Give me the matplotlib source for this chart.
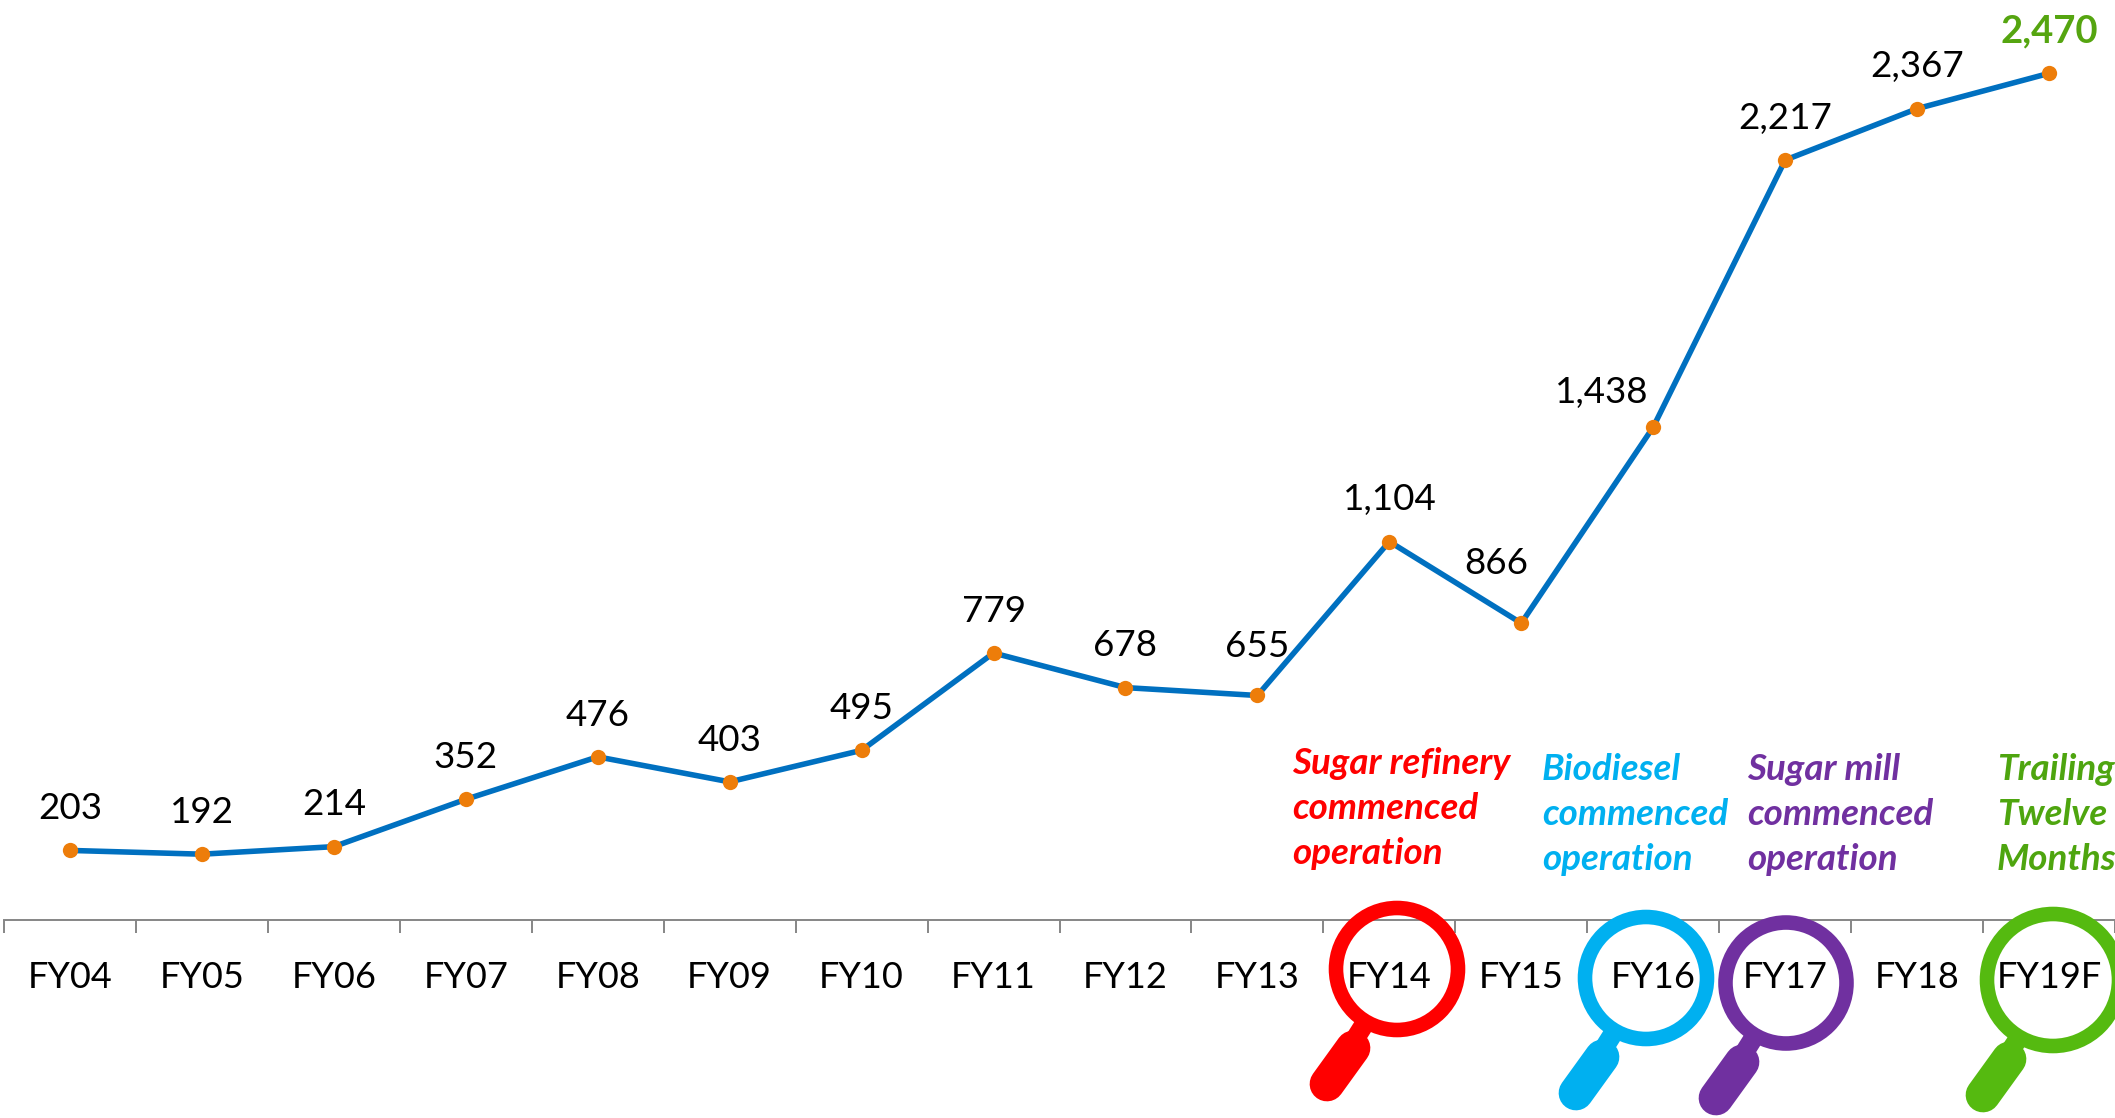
import matplotlib
matplotlib.use("Agg")
import matplotlib.pyplot as plt
from matplotlib.patches import Circle
import numpy as np

years = ["FY04", "FY05", "FY06", "FY07", "FY08", "FY09", "FY10", "FY11",
         "FY12", "FY13", "FY14", "FY15", "FY16", "FY17", "FY18", "FY19F"]
values = [203, 192, 214, 352, 476, 403, 495, 779, 678, 655, 1104, 866, 1438, 2217, 2367, 2470]

# text callouts above the x axis
notes = [["Sugar refinery", "commenced", "operation"],
         ["Biodiesel", "commenced", "operation"],
         ["Sugar mill", "commenced", "operation"],
         ["Trailing", "Twelve", "Months"]]

W, H = 2115, 1118
plt.rcParams["font.family"] = ["Lato", "DejaVu Sans"]

fig = plt.figure(figsize=(W / 100, H / 100), dpi=100)
ax = fig.add_axes([4 / W, (H - 920) / H, 2111 / W, 920 / H])

x = np.arange(len(values))
ax.plot(x, values, color="#0070C0", lw=4, marker="o", ms=11,
        mfc="#ED7D0A", mec="#ED7D0A", mew=0, clip_on=False, zorder=3)
ax.set_xlim(-0.5, 15.5)
ax.set_ylim(0, 2684)

for s in ["top", "left", "right"]:
    ax.spines[s].set_visible(False)
ax.spines["bottom"].set_color("#868686")
ax.spines["bottom"].set_linewidth(1.4)
ax.set_yticks([])
ax.set_xticks(x)
ax.set_xticklabels(years, fontsize=26)
ax.set_xticks(np.arange(-0.5, 16), minor=True)
ax.tick_params(axis="x", which="major", length=0, pad=29.5, colors="black")
ax.tick_params(axis="x", which="minor", length=9.5, width=1.4, color="#868686")

# value labels, most sit right above the point
shift_x = {11: -18, 12: -37}
shift_y = {9: 35, 11: 43, 12: 25}
for i, v in enumerate(values):
    last = i == len(values) - 1
    ax.annotate(f"{v:,}", (x[i], v), xytext=(shift_x.get(i, 0), shift_y.get(i, 30)),
                textcoords="offset points", ha="center", va="center",
                fontsize=27.5 if last else 26.5, color="#55A510" if last else "black",
                fontweight="bold" if last else "normal")

# overlay in pixels for the notes and magnifying glasses
over = fig.add_axes([0, 0, 1, 1])
over.set_xlim(0, W)
over.set_ylim(H, 0)
over.axis("off")
over.patch.set_alpha(0)

note_x = [1292, 1542, 1747, 1997]
note_y = [774, 780, 780, 780]
note_colors = ["#FF0000", "#00B0F0", "#7030A0", "#4EA50F"]
for lines, nx, ny, c in zip(notes, note_x, note_y, note_colors):
    for k, line in enumerate(lines):
        over.text(nx, ny + 45 * k, line, color=c, fontsize=26.5, fontweight="bold",
                  fontstyle="italic", ha="left", va="baseline")

glass_x = [1397, 1646, 1786, 2053]
glass_y = [969, 978, 983, 980]
glass_r = [61, 61, 60.5, 66]
glass_colors = ["#FF0000", "#00B0F0", "#7030A0", "#55BA10"]
for gx, gy, r, c in zip(glass_x, glass_y, glass_r, glass_colors):
    over.add_patch(Circle((gx, gy), r, fill=False, ec=c, lw=10.5))
    # neck then grip, both run down and left from the ring
    over.plot([gx - 0.5 * r, gx - 0.7 * r - 8], [gy + 0.85 * r, gy + 0.85 * r + 32],
              color=c, lw=14, solid_capstyle="butt")
    over.plot([gx - 44, gx - 70], [gy + 79, gy + 115], color=c, lw=25,
              solid_capstyle="round")

fig.savefig("out.png", dpi=100)
